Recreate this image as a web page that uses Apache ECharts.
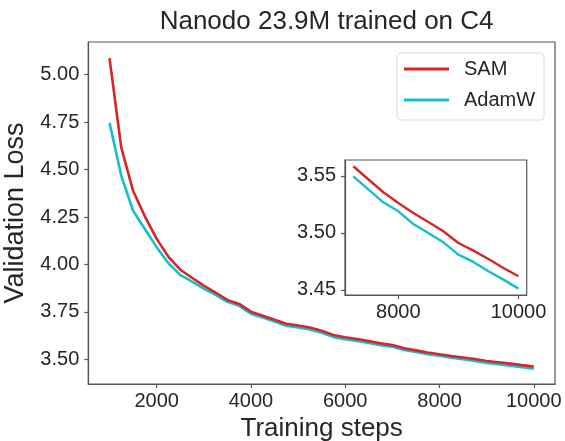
<!DOCTYPE html>
<html>
<head>
<meta charset="utf-8">
<script src="https://cdn.jsdelivr.net/npm/echarts@6/dist/echarts.min.js"></script>
<style>
html,body{margin:0;padding:0;background:#fff;}
#chart{width:565px;height:441px;}
</style>
</head>
<body>
<div id="chart"></div>
<script>
const titleText = 'Nanodo 23.9M trained on C4';
const xName = 'Training steps';
const yName = 'Validation Loss';
const seriesNames = ['SAM', 'AdamW'];

const steps = [1000, 1250, 1500, 1750, 2000, 2250, 2500, 2750, 3000, 3250, 3500, 3750,
  4000, 4250, 4500, 4750, 5000, 5250, 5500, 5750, 6000, 6250, 6500, 6750, 7000,
  7250, 7500, 7750, 8000, 8250, 8500, 8750, 9000, 9250, 9500, 9750, 10000];

const samLoss = [5.087, 4.615, 4.388, 4.253, 4.135, 4.040, 3.972, 3.930, 3.888, 3.852, 3.813, 3.792,
  3.751, 3.730, 3.709, 3.687, 3.678, 3.668, 3.651, 3.628, 3.616, 3.607, 3.596, 3.584, 3.575,
  3.5585, 3.5471, 3.5357, 3.5263, 3.5175, 3.5096, 3.5015, 3.4912, 3.4845, 3.4772, 3.4693, 3.4620];

const adamwLoss = [4.746, 4.467, 4.283, 4.187, 4.091, 4.006, 3.945, 3.910, 3.873, 3.840, 3.803, 3.782,
  3.740, 3.720, 3.699, 3.677, 3.668, 3.657, 3.640, 3.617, 3.606, 3.597, 3.586, 3.574, 3.566,
  3.5497, 3.5383, 3.5269, 3.5190, 3.5079, 3.5000, 3.4918, 3.4810, 3.4746, 3.4664, 3.4591, 3.4512];

const mainXTicks = [2000, 4000, 6000, 8000, 10000];
const mainYTicks = [3.50, 3.75, 4.00, 4.25, 4.50, 4.75, 5.00];
const insetStart = 7250;
const insetXTicks = [8000, 10000];
const insetYTicks = [3.45, 3.50, 3.55];

const RED = '#d62728';
const CYAN = '#17becf';
const TXT = '#262626';
const SPINE = '#555555';
const FONT = '"Liberation Sans", Arial, Helvetica, sans-serif';

function pairs(xs, ys, from) {
  const out = [];
  for (let i = 0; i < xs.length; i++) {
    if (xs[i] >= from) out.push([xs[i], ys[i]]);
  }
  return out;
}

const samMain = pairs(steps, samLoss, 0);
const adamMain = pairs(steps, adamwLoss, 0);
const samInset = pairs(steps, samLoss, insetStart);
const adamInset = pairs(steps, adamwLoss, insetStart);

const chart = echarts.init(document.getElementById('chart'), null, {renderer: 'canvas'});

function xAxisCfg(gridIndex, min, max, ticks, extra) {
  return Object.assign({
    type: 'value', gridIndex: gridIndex, min: min, max: max,
    splitLine: {show: false},
    axisLine: {show: true, onZero: false, lineStyle: {color: SPINE, width: 1.2}},
    axisTick: {show: true, inside: false, length: 4, customValues: ticks, lineStyle: {color: SPINE, width: 1.2}},
    axisLabel: {show: true, customValues: ticks, margin: 7, color: TXT, fontSize: 20, fontFamily: FONT,
      formatter: function (v) { return String(Math.round(v)); }},
    minorTick: {show: false}
  }, extra || {});
}
function yAxisCfg(gridIndex, min, max, ticks, extra) {
  return Object.assign({
    type: 'value', gridIndex: gridIndex, min: min, max: max,
    splitLine: {show: false},
    axisLine: {show: true, onZero: false, lineStyle: {color: SPINE, width: 1.2}},
    axisTick: {show: true, inside: false, length: 4, customValues: ticks, lineStyle: {color: SPINE, width: 1.2}},
    axisLabel: {show: true, customValues: ticks, margin: 9, color: TXT, fontSize: 20, fontFamily: FONT,
      formatter: function (v) { return v.toFixed(2); }},
    minorTick: {show: false}
  }, extra || {});
}

const option = {
  backgroundColor: '#ffffff',
  animation: false,
  title: {
    text: titleText,
    left: 321.6,
    textAlign: 'center',
    top: 4,
    textStyle: {fontSize: 26, fontWeight: 'normal', color: TXT, fontFamily: FONT}
  },
  legend: {
    data: seriesNames,
    orient: 'vertical',
    left: 397,
    top: 53,
    padding: [6, 9, 10, 7],
    itemGap: 11,
    itemWidth: 45,
    itemHeight: 3,
    icon: 'rect',
    borderColor: '#d9d9d9',
    borderWidth: 1,
    borderRadius: 4,
    backgroundColor: '#ffffff',
    textStyle: {fontSize: 20, color: TXT, fontFamily: FONT, padding: [0, 0, 0, 10]}
  },
  grid: [
    {left: 88.3, top: 42, right: 10, bottom: 57, show: true, borderColor: SPINE, borderWidth: 1.2,
      backgroundColor: 'transparent', outerBoundsMode: 'none', containLabel: false},
    {left: 345, top: 160, width: 181.7, height: 135, show: true, borderColor: SPINE, borderWidth: 1.2,
      backgroundColor: '#ffffff', outerBoundsMode: 'none', containLabel: false, z: 5}
  ],
  xAxis: [
    xAxisCfg(0, 550, 10450, mainXTicks, {
      name: xName, nameLocation: 'middle', nameGap: 28,
      nameTextStyle: {fontSize: 26, color: TXT, fontFamily: FONT}
    }),
    xAxisCfg(1, 7112.5, 10137.5, insetXTicks, {z: 6})
  ],
  yAxis: [
    yAxisCfg(0, 3.370, 5.172, mainYTicks, {
      name: yName, nameLocation: 'middle', nameGap: 46,
      nameTextStyle: {fontSize: 27, color: TXT, fontFamily: FONT}
    }),
    yAxisCfg(1, 3.4456, 3.564, insetYTicks, {z: 6})
  ],
  series: [
    {name: seriesNames[0], type: 'line', xAxisIndex: 0, yAxisIndex: 0, data: samMain,
      symbol: 'none', showSymbol: false, color: RED, lineStyle: {color: RED, width: 2.6}, z: 3},
    {name: seriesNames[1], type: 'line', xAxisIndex: 0, yAxisIndex: 0, data: adamMain,
      symbol: 'none', showSymbol: false, color: CYAN, lineStyle: {color: CYAN, width: 2.6}, z: 2},
    {name: seriesNames[0], type: 'line', xAxisIndex: 1, yAxisIndex: 1, data: samInset,
      symbol: 'none', showSymbol: false, color: RED, lineStyle: {color: RED, width: 2.4}, z: 7},
    {name: seriesNames[1], type: 'line', xAxisIndex: 1, yAxisIndex: 1, data: adamInset,
      symbol: 'none', showSymbol: false, color: CYAN, lineStyle: {color: CYAN, width: 2.4}, z: 7}
  ]
};

chart.setOption(option);
</script>
</body>
</html>
